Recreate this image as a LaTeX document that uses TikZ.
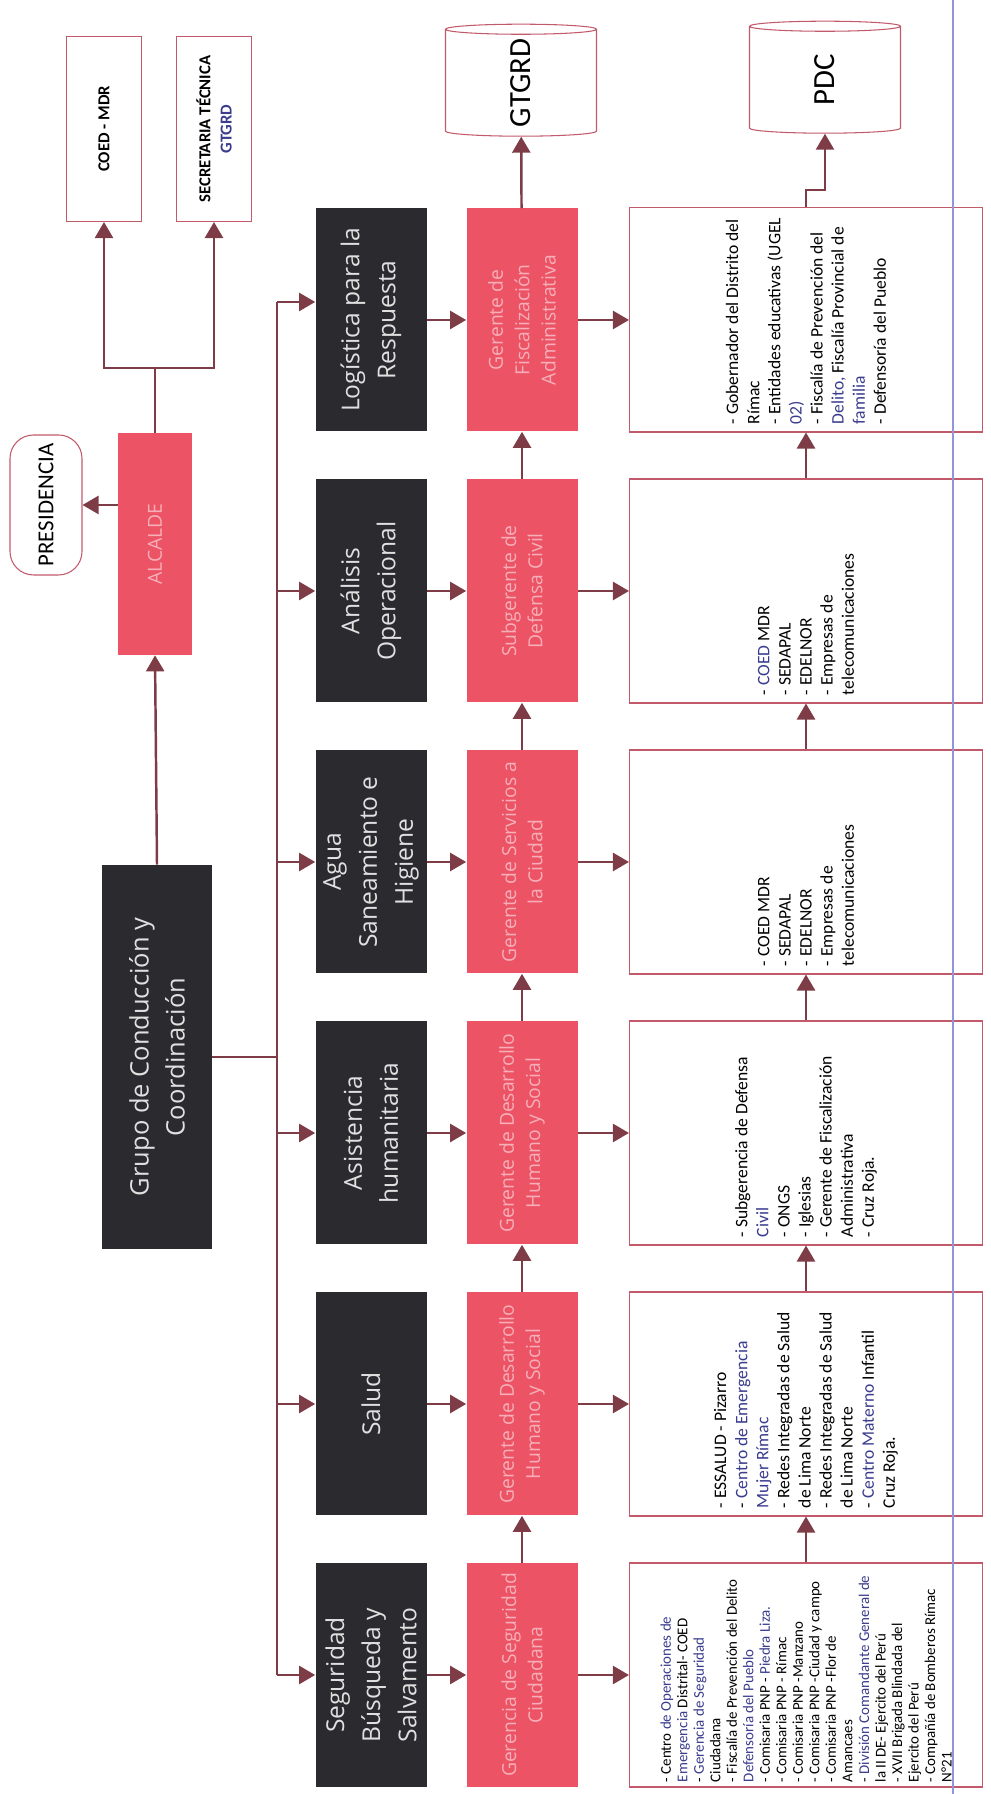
\documentclass[tikz,border=0pt]{standalone}
\usepackage{fontspec}
\setmainfont{Carlito}
\newfontfamily\ligera{Open Sans}
\usetikzlibrary{arrows.meta,shapes.geometric,positioning}
\definecolor{oscuro}{HTML}{2B2B2F}
\definecolor{rojo}{HTML}{EC5466}
\definecolor{rosa}{HTML}{F6AEB8}
\definecolor{granate}{HTML}{7D3C46}
\definecolor{borde}{HTML}{C25A6C}
\definecolor{azulado}{HTML}{3A3C8E}
\definecolor{margen}{HTML}{9494DC}
\newcommand{\az}[1]{\textcolor{azulado}{#1}}

\begin{document}
\begin{tikzpicture}
    [ x=0.2mm, y=0.2mm,
      area/.style={fill=oscuro, text=black!12, align=center, inner sep=0pt,
                   font=\ligera\fontsize{14}{20.5}\selectfont,
                   minimum width=44.6mm, minimum height=22.2mm},
      gerencia/.style={fill=rojo, text=rosa, align=center, inner sep=0pt,
                   font=\ligera\fontsize{11}{15}\selectfont,
                   minimum width=44.6mm, minimum height=22.2mm},
      entidades/.style={draw=borde, line width=.6pt, fill=white,
                   minimum width=44.8mm, minimum height=70.6mm},
      recuadro/.style={draw=borde, line width=.6pt, fill=white, align=center,
                   font=\bfseries\fontsize{9.5}{12}\selectfont,
                   minimum width=37mm, minimum height=15mm},
      cilindro/.style={cylinder, draw=borde, line width=.6pt, fill=white,
                   aspect=.5, inner sep=0pt,
                   font=\fontsize{17.5}{20}\selectfont,
                   minimum width=30.2mm, minimum height=22.4mm},
      lista/.style={align=left, inner sep=0pt,
                   font=\fontsize{10}{12}\selectfont},
      linea/.style={draw=granate, line width=1.4pt},
      flecha/.style={linea, -{Triangle[length=3.2mm,width=3.6mm]}},
    ]
    \useasboundingbox (0,0) rectangle (990,1794);

    % el organigrama va acostado: se dibuja apaisado y se gira
    \begin{scope}[rotate=90, transform shape]
        \node[recuadro] (coed) at (1665,-104) {COED - MDR};
        \node[recuadro] (secretaria) at (1665,-214)
            {SECRETARIA TÉCNICA\\\az{GTGRD}};
        \node[recuadro, rounded corners=4.7mm, font=\fontsize{13}{15}\selectfont,
              minimum width=28mm, minimum height=14.4mm]
            (presidencia) at (1289,-46) {PRESIDENCIA};
        \node[gerencia, minimum width=44.4mm, minimum height=14.8mm]
            (alcalde) at (1250,-155) {ALCALDE};
        \node[area, font=\ligera\fontsize{14.5}{20.5}\selectfont,
              minimum width=76.8mm, minimum height=22mm]
            (grupo) at (737,-157) {Grupo de Conducción y\\Coordinación};

        \node[cilindro] (gtgrd) at (1711,-521) {GTGRD};
        \node[cilindro] (pdc) at (1714,-825) {PDC};

        \foreach \n/\u/\ub/\tarea/\tger in {
            1/1474/1492/{Logística para la\\Respuesta}/{Gerente de\\Fiscalización\\Administrativa},
            2/1203/1203/{Análisis\\Operacional}/{Subgerente de\\Defensa Civil},
            3/932/932/{Agua\\Saneamiento e\\Higiene}/{Gerente de Servicios a\\la Ciudad},
            4/661/661/{Asistencia\\humanitaria}/{Gerente de Desarrollo\\Humano y Social},
            5/390/390/{Salud}/{Gerente de Desarrollo\\Humano y Social},
            6/119/119/{Seguridad\\Búsqueda y\\Salvamento}/{Gerencia de Seguridad\\Ciudadana}} {
            \node[area] (area\n) at (\u,-371) {\tarea};
            \node[gerencia] (ger\n) at (\u,-522) {\tger};
            \node[entidades] (ent\n) at (\u,-806) {};
            \coordinate (bus\n) at (\ub,-277);
            \draw[flecha] (bus\n) -- (bus\n |- area\n.north);
            \draw[flecha] (area\n) -- (ger\n);
            \draw[flecha] (ger\n) -- (ent\n);
        }
        \draw[linea] (bus1) -- (bus6);
        \draw[linea] (grupo.south) -- (grupo.south |- bus1);

        \foreach \a/\b in {2/1,3/2,4/3,5/4,6/5} {
            \draw[flecha] (ger\a) -- (ger\b);
            \draw[flecha] (ent\a) -- (ent\b);
        }
        \draw[flecha] (ger1) -- (gtgrd);
        \coordinate (codo) at (1604,-806);
        \draw[flecha] (ent1.east) -- (codo) |- (pdc.west);

        \draw[flecha] (grupo.east) -- (alcalde.west);
        \draw[flecha] (alcalde.north -| presidencia) -- (presidencia.south);
        \coordinate (cruce) at (1426,-155);
        \draw[linea] (alcalde.east) -- (cruce);
        \draw[flecha] (cruce) |- (coed.west);
        \draw[flecha] (cruce) |- (secretaria.west);

        % entidades de apoyo
        \node[lista, right=1.6mm of ent1.west] (lista1)
            {- Gobernador del Distrito del\\Rímac\\- Entidades educativas (UGEL\\\az{02)}\\
             - Fiscalía de Prevención del\\\az{Delito,} Fiscalía Provincial de\\\az{familia}\\
             - Defensoría del Pueblo};
        \node[lista, right=1.6mm of ent2.west] (lista2)
            {- \az{COED} MDR\\- SEDAPAL\\- EDELNOR\\- Empresas de\\telecomunicaciones};
        \node[lista, right=1.6mm of ent3.west] (lista3)
            {- COED MDR\\- SEDAPAL\\- EDELNOR\\- Empresas de\\telecomunicaciones};
        \node[lista, right=1.6mm of ent4.west] (lista4)
            {- Subgerencia de Defensa\\\az{Civil}\\- ONGS\\- Iglesias\\
             - Gerente de Fiscalización\\Administrativa\\- Cruz Roja.};
        \node[lista, right=1.6mm of ent5.west] (lista5)
            {- ESSALUD - Pizarro\\- \az{Centro de Emergencia}\\\az{Mujer Rímac}\\
             - Redes Integradas de Salud\\de Lima Norte\\
             - Redes Integradas de Salud\\de Lima Norte\\
             - \az{Centro Materno} Infantil\\Cruz Roja.};
        \node[lista, font=\fontsize{8.5}{9.4}\selectfont, right=1mm of ent6.west] (lista6)
            {- Centro \az{de Operaciones de}\\\az{Emergencia} Distrital- COED\\
             - \az{Gerencia de Seguridad}\\Ciudadana\\
             - Fiscalía de Prevención del Delito\\\az{Defensoría del Pueblo}\\
             - Comisaria PNP - \az{Piedra Liza.}\\- Comisaria PNP - Rímac\\
             - Comisaria PNP -Manzano\\- Comisaria PNP -Ciudad y campo\\
             - Comisaria PNP -Flor de\\Amancaes\\
             - \az{División Comandante General de}\\la II DE- Ejercito del Perú\\
             - XVII Brigada Blindada del\\Ejercito del Perú\\
             - Compañía de Bomberos Rímac\\N°21};
    \end{scope}

    \draw[margen, line width=.6pt] (953,0) -- (953,1794);
\end{tikzpicture}
\end{document}
